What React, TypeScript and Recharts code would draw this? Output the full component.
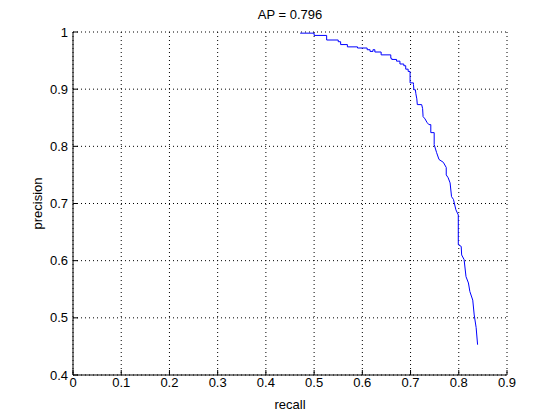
import React from 'react';
import { LineChart, Line, XAxis, YAxis, CartesianGrid } from 'recharts';

const recall = [
  0.471, 0.5, 0.5, 0.526, 0.526, 0.55, 0.55, 0.555, 0.555, 0.569, 0.569, 0.59, 0.59, 0.61, 0.61,
  0.616, 0.616, 0.622, 0.622, 0.626, 0.626, 0.639, 0.639, 0.659, 0.659, 0.661, 0.661, 0.671, 0.671,
  0.678, 0.678, 0.686, 0.686, 0.69, 0.69, 0.695, 0.695, 0.699, 0.699, 0.706, 0.706, 0.707, 0.71,
  0.711, 0.713, 0.714, 0.723, 0.725, 0.726, 0.73, 0.734, 0.738, 0.742, 0.742, 0.749, 0.749, 0.754,
  0.759, 0.768, 0.774, 0.774, 0.778, 0.782, 0.785, 0.789, 0.794, 0.799, 0.799, 0.805, 0.806, 0.811,
  0.815, 0.82, 0.823, 0.829, 0.832, 0.836, 0.839,
];
const precision = [
  0.998, 0.998, 0.994, 0.994, 0.986, 0.986, 0.983, 0.983, 0.978, 0.978, 0.974, 0.974, 0.972, 0.972, 0.969,
  0.969, 0.966, 0.966, 0.969, 0.969, 0.965, 0.965, 0.96, 0.96, 0.954, 0.954, 0.952, 0.952, 0.949,
  0.949, 0.944, 0.944, 0.941, 0.941, 0.935, 0.935, 0.931, 0.931, 0.911, 0.911, 0.908, 0.899, 0.899,
  0.892, 0.883, 0.873, 0.873, 0.866, 0.852, 0.848, 0.842, 0.838, 0.838, 0.824, 0.824, 0.803, 0.789,
  0.777, 0.772, 0.763, 0.75, 0.745, 0.736, 0.712, 0.707, 0.689, 0.68, 0.628, 0.625, 0.61, 0.602,
  0.572, 0.561, 0.546, 0.531, 0.505, 0.483, 0.453,
];
const xTicks = [0, 0.1, 0.2, 0.3, 0.4, 0.5, 0.6, 0.7, 0.8, 0.9];
const yTicks = [0.4, 0.5, 0.6, 0.7, 0.8, 0.9, 1];
const title = 'AP = 0.796';
const xLabel = 'recall';
const yLabel = 'precision';

const data = recall.map((r, i) => ({ recall: r, precision: precision[i] }));

const FONT = '"Liberation Sans", Arial, Helvetica, sans-serif';
const fmt = (v: number) => String(Number(v.toFixed(1)));
const tickStyle = { fill: '#000', fontSize: 13, fontFamily: FONT };

export default function App() {
  return (
    <div style={{ position: 'absolute', left: 0, top: 0, width: 560, height: 420, background: '#fff' }}>
      <div
        style={{
          position: 'absolute',
          left: 73,
          width: 434,
          top: 7,
          lineHeight: '16px',
          fontSize: 13,
          fontFamily: FONT,
          textAlign: 'center',
          color: '#000',
        }}
      >
        {title}
      </div>
      <LineChart
        width={560}
        height={420}
        data={data}
        margin={{ top: 32, right: 53, left: 1, bottom: 5 }}
        style={{ fontFamily: FONT }}
      >
        <CartesianGrid
          stroke="#000"
          strokeDasharray="1 3"
          horizontalValues={yTicks}
          verticalValues={xTicks}
        />
        <XAxis
          dataKey="recall"
          type="number"
          domain={[0, 0.9]}
          ticks={xTicks}
          tickFormatter={fmt}
          height={40}
          tickSize={-5}
          tickMargin={8}
          tick={tickStyle}
          stroke="#000"
          axisLine={{ stroke: '#000' }}
          tickLine={{ stroke: '#000' }}
          interval={0}
          label={{ value: xLabel, position: 'insideBottom', offset: 6, fill: '#000', fontSize: 13, fontFamily: FONT }}
        />
        <XAxis
          xAxisId="top"
          orientation="top"
          type="number"
          domain={[0, 0.9]}
          ticks={xTicks}
          tickFormatter={() => ''}
          height={0}
          tickSize={-5}
          stroke="#000"
          interval={0}
        />
        <YAxis
          type="number"
          domain={[0.4, 1]}
          ticks={yTicks}
          tickFormatter={fmt}
          width={72}
          tickSize={-5}
          tickMargin={10}
          tick={tickStyle}
          stroke="#000"
          interval={0}
          label={{ value: yLabel, angle: -90, position: 'center', fill: '#000', fontSize: 13, fontFamily: FONT }}
        />
        <YAxis
          yAxisId="right"
          orientation="right"
          type="number"
          domain={[0.4, 1]}
          ticks={yTicks}
          tickFormatter={() => ''}
          width={0}
          tickSize={-5}
          stroke="#000"
          interval={0}
        />
        <Line
          dataKey="precision"
          type="linear"
          stroke="#0000ff"
          strokeWidth={1}
          dot={false}
          activeDot={false}
          isAnimationActive={false}
        />
      </LineChart>
    </div>
  );
}
